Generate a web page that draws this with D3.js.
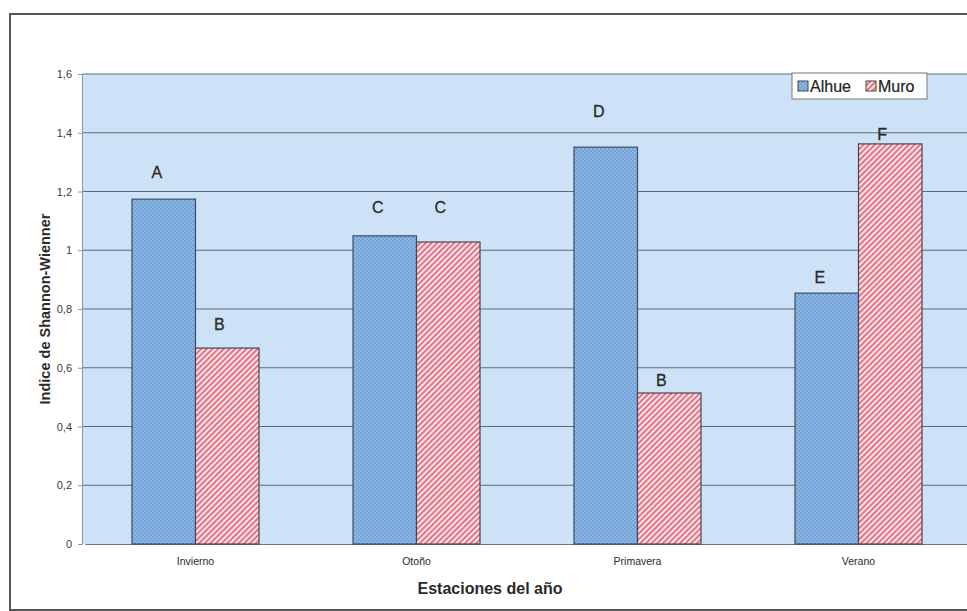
<!DOCTYPE html>
<meta charset="utf-8">
<script src="https://d3js.org/d3.v7.min.js"></script>
<style>
  body { margin: 0; background: #fff; }
  svg { font-family: "Liberation Sans", Arial, sans-serif; }
</style>
<svg id="chart" width="967" height="611"></svg>
<script>

// Data
var seasons = ["Invierno", "Otoño", "Primavera", "Verano"];
var series = ["Alhue", "Muro"];
var alhue = [1.174, 1.049, 1.351, 0.854];
var muro = [0.667, 1.028, 0.514, 1.362];
// significance letters and the height (axis units) where each one sits
var alhueLetters = ["A", "C", "D", "E"];
var muroLetters = ["B", "C", "B", "F"];
var alhueLetterAt = [1.266, 1.147, 1.471, 0.909];
var muroLetterAt = [0.746, 1.147, 0.558, 1.396];
var yTicks = [0, 0.2, 0.4, 0.6, 0.8, 1, 1.2, 1.4, 1.6];

var svg = d3.select("#chart");
var plotL = 82, plotT = 74, plotB = 544, plotR = 969;

var defs = svg.append("defs");
// dotted blue fill
var pd = defs.append("pattern").attr("id", "dots")
  .attr("width", 4).attr("height", 4).attr("patternUnits", "userSpaceOnUse");
pd.append("rect").attr("width", 4).attr("height", 4).attr("fill", "#8ab6e6");
pd.append("circle").attr("cx", 1).attr("cy", 1).attr("r", 0.8).attr("fill", "#5a8bc4");
pd.append("circle").attr("cx", 3).attr("cy", 3).attr("r", 0.8).attr("fill", "#5a8bc4");
// red diagonal stripes
var ps = defs.append("pattern").attr("id", "stripes")
  .attr("width", 4).attr("height", 4).attr("patternUnits", "userSpaceOnUse")
  .attr("patternTransform", "rotate(45)");
ps.append("rect").attr("width", 4).attr("height", 4).attr("fill", "#fbe4e8");
ps.append("rect").attr("width", 1.8).attr("height", 4).attr("fill", "#e2697b");

// outer frame
svg.append("rect").attr("x", 10).attr("y", 14).attr("width", 970).attr("height", 596)
  .attr("fill", "none").attr("stroke", "#555").attr("stroke-width", 2);

var x = d3.scaleBand().domain(seasons).range([plotL + 3, plotR]).paddingInner(0).paddingOuter(0);
var barW = 63.5;
var y = d3.scaleLinear().domain([0, 1.6]).range([plotB, plotT]);

// plot background
svg.append("rect").attr("x", plotL).attr("y", plotT)
  .attr("width", 967 - plotL).attr("height", plotB - plotT).attr("fill", "#cde2f6");

// gridlines
svg.append("g").selectAll("line").data(yTicks.filter(function(d){ return d > 0; }))
  .enter().append("line")
  .attr("x1", plotL).attr("x2", 967)
  .attr("y1", function(d){ return y(d); }).attr("y2", function(d){ return y(d); })
  .attr("stroke", "#5d6b7a").attr("stroke-width", 1);

// y axis
var yAxis = svg.append("g").attr("transform", "translate(" + plotL + ",0)")
  .call(d3.axisLeft(y).tickValues(yTicks).tickSize(4).tickPadding(6)
    .tickFormat(function(d){ return String(d).replace(".", ","); }));
yAxis.select(".domain").attr("stroke", "#8a96a3");
yAxis.selectAll(".tick line").attr("stroke", "#8a96a3");
yAxis.selectAll("text").attr("font-size", 11).attr("fill", "#3a3a3a")
  .attr("font-family", "Liberation Sans, Arial, sans-serif");

// x axis
var xAxis = svg.append("g").attr("transform", "translate(0," + plotB + ")")
  .call(d3.axisBottom(x).tickSize(0).tickPadding(14));
xAxis.select(".domain").attr("stroke", "#6a7582");
xAxis.selectAll("text").attr("font-size", 10.5).attr("fill", "#2a2a2a")
  .attr("font-family", "Liberation Sans, Arial, sans-serif");

// bars
var rows = seasons.map(function(s, i) {
  return { s: s, a: alhue[i], m: muro[i], la: alhueLetters[i], lm: muroLetters[i],
           ya: alhueLetterAt[i], ym: muroLetterAt[i] };
});
var g = svg.append("g");
g.selectAll(".alhue").data(rows).enter().append("rect")
  .attr("x", function(d){ return x(d.s) + x.bandwidth() / 2 - barW; })
  .attr("y", function(d){ return y(d.a); })
  .attr("width", barW).attr("height", function(d){ return plotB - y(d.a); })
  .attr("fill", "url(#dots)").attr("stroke", "#3f4d5e").attr("stroke-width", 1.2);
g.selectAll(".muro").data(rows).enter().append("rect")
  .attr("x", function(d){ return x(d.s) + x.bandwidth() / 2; })
  .attr("y", function(d){ return y(d.m); })
  .attr("width", barW).attr("height", function(d){ return plotB - y(d.m); })
  .attr("fill", "url(#stripes)").attr("stroke", "#4a4550").attr("stroke-width", 1.2);

// letters
g.selectAll(".la").data(rows).enter().append("text")
  .attr("x", function(d){ return x(d.s) + x.bandwidth() / 2 - barW / 2 - 7; })
  .attr("y", function(d){ return y(d.ya); })
  .attr("dy", "0.35em").attr("text-anchor", "middle")
  .attr("font-size", 16).attr("fill", "#2a2a2a")
  .attr("stroke", "#2a2a2a").attr("stroke-width", 0.3)
  .text(function(d){ return d.la; });
g.selectAll(".lm").data(rows).enter().append("text")
  .attr("x", function(d){ return x(d.s) + x.bandwidth() / 2 + barW / 2 - 8; })
  .attr("y", function(d){ return y(d.ym); })
  .attr("dy", "0.35em").attr("text-anchor", "middle")
  .attr("font-size", 16).attr("fill", "#2a2a2a")
  .attr("stroke", "#2a2a2a").attr("stroke-width", 0.3)
  .text(function(d){ return d.lm; });

// axis titles
svg.append("text").attr("transform", "translate(45," + ((plotT + plotB) / 2) + ") rotate(-90)")
  .attr("text-anchor", "middle").attr("dy", "0.35em")
  .attr("font-size", 14.5).attr("font-weight", "bold").attr("fill", "#2a2a2a")
  .text("Indice de Shannon-Wienner");
svg.append("text").attr("x", 490).attr("y", 594)
  .attr("text-anchor", "middle")
  .attr("font-size", 16).attr("font-weight", "bold").attr("fill", "#2a2a2a")
  .text("Estaciones del año");

// legend
var lg = svg.append("g").attr("transform", "translate(792,73)");
lg.append("rect").attr("width", 135).attr("height", 26)
  .attr("fill", "#fff").attr("stroke", "#777").attr("stroke-width", 1);
var fills = ["url(#dots)", "url(#stripes)"];
var item = lg.selectAll(".item").data(series).enter().append("g")
  .attr("transform", function(d, i){ return "translate(" + (6 + i * 68) + ",0)"; });
item.append("rect").attr("y", 8).attr("width", 10).attr("height", 10)
  .attr("fill", function(d, i){ return fills[i]; }).attr("stroke", "#444").attr("stroke-width", 1);
item.append("text").attr("x", 12).attr("y", 13).attr("dy", "0.35em")
  .attr("font-size", 16).attr("fill", "#222")
  .attr("stroke", "#222").attr("stroke-width", 0.2)
  .text(function(d){ return d; });

</script>
